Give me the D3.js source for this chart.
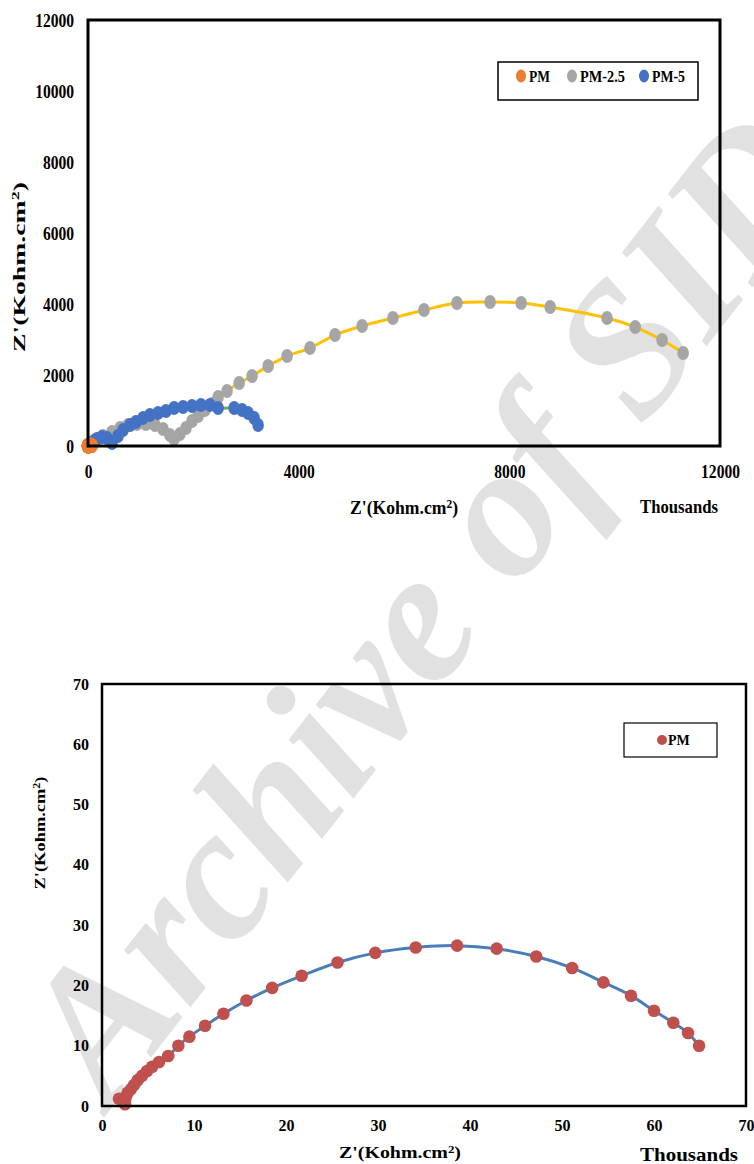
<!DOCTYPE html>
<html>
<head>
<meta charset="utf-8">
<script src="https://cdn.jsdelivr.net/npm/d3@7"></script>
<style>
  html, body { margin: 0; padding: 0; background: #fff; }
  svg { display: block; }
  text { font-family: "Liberation Serif", "Times New Roman", serif; font-weight: bold; fill: #000; }
  .squeeze text { transform-box: fill-box; transform: scaleX(0.82); }
  .yax.squeeze text { transform-origin: right center; }
  .xax.squeeze text { transform-origin: center center; }
</style>
</head>
<body>
<svg id="chart" width="754" height="1164"></svg>
<script>
// Nyquist data, values in thousands
// PM (bottom chart, also the orange dot near the origin of the top chart)
const pmRe = [1.85, 2.5, 2.5, 2.6, 2.8, 3.15, 3.5, 3.9, 4.35, 4.9, 5.45, 6.2, 7.2, 8.3, 9.5, 11.2, 13.2, 15.7,
  18.5, 21.7, 25.6, 29.7, 34.1, 38.6, 42.9, 47.2, 51.1, 54.5, 57.5, 60.0, 62.1, 63.7, 64.9];
const pmIm = [1.2, 0.3, 0.8, 1.5, 2.2, 2.8, 3.5, 4.3, 5.0, 5.8, 6.5, 7.3, 8.3, 10.0, 11.5, 13.3, 15.3, 17.5,
  19.6, 21.6, 23.8, 25.4, 26.3, 26.6, 26.1, 24.8, 22.9, 20.5, 18.3, 15.8, 13.8, 12.1, 10.0];

// PM-2.5
const pm25Re = [130, 285, 455, 610, 760, 930, 1100, 1270, 1425, 1555, 1635, 1745, 1860, 1975, 2090, 2220, 2355,
  2470, 2640, 2870, 3115, 3420, 3780, 4215, 4690, 5205, 5790, 6380, 7005, 7635, 8225, 8775, 9855, 10390, 10900, 11300];
const pm25Im = [170, 280, 395, 505, 590, 620, 620, 590, 480, 310, 200, 340, 505, 705, 845, 1015, 1185,
  1380, 1550, 1775, 1970, 2255, 2535, 2760, 3125, 3380, 3605, 3830, 4030, 4055, 4030, 3915, 3605, 3350, 2985, 2620];

// PM-5
const pm5Re = [95, 170, 265, 360, 455, 570, 665, 800, 910, 1045, 1175, 1330, 1480, 1635, 1805, 1975, 2145, 2315,
  2470, 2775, 2925, 3040, 3155, 3230];
const pm5Im = [115, 195, 255, 225, 85, 280, 450, 590, 675, 790, 875, 930, 985, 1070, 1100, 1125, 1155, 1155,
  1070, 1070, 1015, 930, 790, 590];

const topXTicks = [0, 4000, 8000, 12000];
const topYTicks = [0, 2000, 4000, 6000, 8000, 10000, 12000];
const botTicks = [0, 10, 20, 30, 40, 50, 60, 70];

const topLegend = [
  { name: 'PM', color: '#ED7D31' },
  { name: 'PM-2.5', color: '#A5A5A5' },
  { name: 'PM-5', color: '#4472C4' }
];

const svg = d3.select('#chart');

const zip = (xs, ys) => xs.map((x, i) => ({ x, y: ys[i] }));

// watermark sits behind everything
svg.append('text')
  .attr('transform', 'translate(110,1110) rotate(-52)')
  .style('font-size', '190px')
  .style('font-style', 'italic')
  .style('fill', '#e1e1e1')
  .text('Archive of SID');

function axisTitle(g, txt, opts) {
  const t = g.append('text')
    .attr('text-anchor', opts.anchor || 'middle')
    .style('font-size', opts.size + 'px');
  if (opts.rotate) {
    t.attr('transform', `translate(${opts.x},${opts.y}) rotate(-90)`);
  } else {
    t.attr('x', opts.x).attr('y', opts.y);
  }
  if (opts.len) t.attr('textLength', opts.len).attr('lengthAdjust', 'spacingAndGlyphs');
  if (txt === 'Z') {
    t.append('tspan').text("Z'(Kohm.cm");
    t.append('tspan').attr('baseline-shift', 'super').style('font-size', (opts.size * 0.65) + 'px').text('2');
    t.append('tspan').text(')');
  } else {
    t.text(txt);
  }
}

// ---------- top chart ----------
const box1 = { left: 88, right: 720, top: 20, bottom: 446 };
const x1 = d3.scaleLinear().domain([0, 12000]).range([box1.left, box1.right]);
const y1 = d3.scaleLinear().domain([0, 12000]).range([box1.bottom, box1.top]);
const g1 = svg.append('g');

g1.append('g')
  .attr('class', 'yax squeeze')
  .attr('transform', `translate(${box1.left},0)`)
  .call(d3.axisLeft(y1).tickValues(topYTicks).tickFormat(d3.format('d')).tickSize(0).tickPadding(14))
  .call(a => a.select('.domain').remove())
  .selectAll('text').style('font-size', '19px');

g1.append('g')
  .attr('class', 'xax squeeze')
  .attr('transform', `translate(0,${box1.bottom})`)
  .call(d3.axisBottom(x1).tickValues(topXTicks).tickFormat(d3.format('d')).tickSize(0).tickPadding(19))
  .call(a => a.select('.domain').remove())
  .selectAll('text').style('font-size', '19px');

const smooth = d3.line().x(d => d.x).y(d => d.y).curve(d3.curveCatmullRom.alpha(0.5));

// fitted lines drawn under the markers
g1.append('path')
  .attr('d', smooth(zip(pm25Re, pm25Im).map(d => ({ x: x1(d.x), y: y1(d.y) }))))
  .attr('fill', 'none').attr('stroke', '#FFC000').attr('stroke-width', 3);
g1.append('path')
  .attr('d', smooth(zip(pm5Re, pm5Im).map(d => ({ x: x1(d.x), y: y1(d.y) }))))
  .attr('fill', 'none').attr('stroke', '#70AD47').attr('stroke-width', 3);

function ellipses(g, data, color, sx, sy, rx, ry) {
  g.append('g').selectAll('ellipse')
    .data(data)
    .join('ellipse')
    .attr('cx', d => sx(d.x))
    .attr('cy', d => sy(d.y))
    .attr('rx', rx).attr('ry', ry)
    .attr('fill', color);
}

ellipses(g1, zip(pm25Re, pm25Im), '#A5A5A5', x1, y1, 5.8, 7);
ellipses(g1, zip(pm5Re, pm5Im), '#4472C4', x1, y1, 5.8, 7);
ellipses(g1, zip(pmRe, pmIm), '#ED7D31', x1, y1, 6.5, 7.5);

// frame
g1.append('rect')
  .attr('x', box1.left).attr('y', box1.top)
  .attr('width', box1.right - box1.left).attr('height', box1.bottom - box1.top)
  .attr('fill', 'none').attr('stroke', '#000').attr('stroke-width', 3);

// legend
g1.append('rect')
  .attr('x', 498).attr('y', 62).attr('width', 200).attr('height', 38)
  .attr('fill', '#fff').attr('stroke', '#000').attr('stroke-width', 1.5);
const legX = [521, 572, 644];
const legW = [21, 45, 33];
topLegend.forEach((s, i) => {
  g1.append('ellipse').attr('cx', legX[i]).attr('cy', 76).attr('rx', 5).attr('ry', 6.5).attr('fill', s.color);
  g1.append('text').attr('x', legX[i] + 8).attr('y', 82)
    .style('font-size', '17px')
    .attr('textLength', legW[i]).attr('lengthAdjust', 'spacingAndGlyphs')
    .text(s.name);
});

axisTitle(g1, 'Z', { x: 404, y: 514, size: 18, len: 108 });
axisTitle(g1, 'Thousands', { x: 640, y: 513, size: 18, len: 78, anchor: 'start' });
axisTitle(g1, 'Z', { x: 25, y: 267, size: 17, len: 170, rotate: true });

// ---------- bottom chart ----------
const box2 = { left: 102, right: 746, top: 684, bottom: 1106 };
const x2 = d3.scaleLinear().domain([0, 70]).range([box2.left, box2.right]);
const y2 = d3.scaleLinear().domain([0, 70]).range([box2.bottom, box2.top]);
const g2 = svg.append('g');

g2.append('g')
  .attr('transform', `translate(${box2.left},0)`)
  .call(d3.axisLeft(y2).tickValues(botTicks).tickSize(0).tickPadding(13))
  .call(a => a.select('.domain').remove())
  .selectAll('text').style('font-size', '16px');

g2.append('g')
  .attr('transform', `translate(0,${box2.bottom})`)
  .call(d3.axisBottom(x2).tickValues(botTicks).tickSize(0).tickPadding(14))
  .call(a => a.select('.domain').remove())
  .selectAll('text').style('font-size', '16px');

const pmPts = zip(pmRe, pmIm);
g2.append('path')
  .attr('d', smooth(pmPts.slice(1).map(d => ({ x: x2(d.x), y: y2(d.y) }))))
  .attr('fill', 'none').attr('stroke', '#4A7EBB').attr('stroke-width', 3);

g2.append('g').selectAll('circle')
  .data(pmPts)
  .join('circle')
  .attr('cx', d => x2(d.x))
  .attr('cy', d => y2(d.y))
  .attr('r', 6.3)
  .attr('fill', '#C0504D');

g2.append('rect')
  .attr('x', box2.left).attr('y', box2.top)
  .attr('width', box2.right - box2.left).attr('height', box2.bottom - box2.top)
  .attr('fill', 'none').attr('stroke', '#000').attr('stroke-width', 2.5);

g2.append('rect')
  .attr('x', 624).attr('y', 723).attr('width', 93).attr('height', 34)
  .attr('fill', '#fff').attr('stroke', '#000').attr('stroke-width', 1.2);
g2.append('circle').attr('cx', 662).attr('cy', 740).attr('r', 5).attr('fill', '#C0504D');
g2.append('text').attr('x', 668).attr('y', 745).style('font-size', '14px').text('PM');

axisTitle(g2, 'Z', { x: 400, y: 1158, size: 16, len: 122 });
axisTitle(g2, 'Thousands', { x: 640, y: 1161, size: 19, len: 98, anchor: 'start' });
axisTitle(g2, 'Z', { x: 45, y: 833, size: 15, len: 113, rotate: true });
</script>
</body>
</html>
